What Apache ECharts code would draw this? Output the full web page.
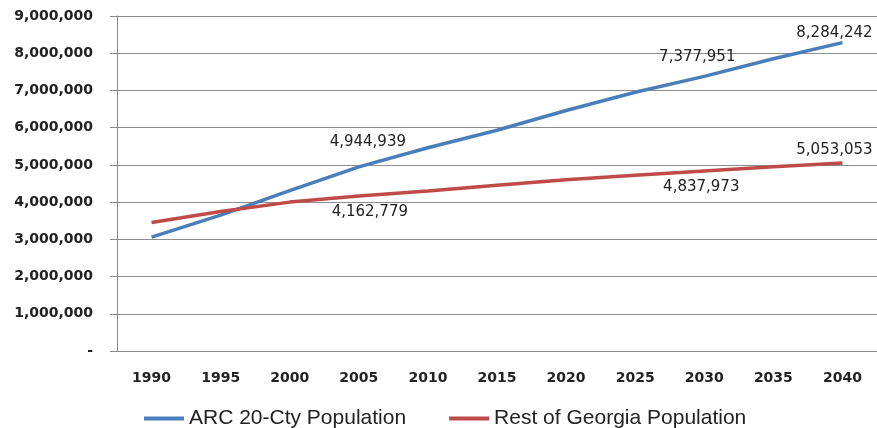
<!DOCTYPE html>
<html>
<head>
<meta charset="utf-8">
<script src="https://cdn.jsdelivr.net/npm/echarts@6/dist/echarts.min.js"></script>
<style>
  html, body { margin: 0; padding: 0; background: #fff; }
  #myLineChart { width: 877px; height: 428px; }
</style>
</head>
<body>
<div id="myLineChart"></div>
<script>
var years = ['1990', '1995', '2000', '2005', '2010', '2015', '2020', '2025', '2030', '2035', '2040'];
var arcPop = [3060000, 3650000, 4310000, 4944939, 5460000, 5930000, 6460000, 6950000, 7377951, 7850000, 8284242];
var restPop = [3450000, 3750000, 4000000, 4162779, 4300000, 4450000, 4600000, 4720000, 4837973, 4950000, 5053053];
var labeledIdx = [3, 8, 10];

// label placement, relative to the point
var arcOffsets = { 3: [9, -25], 8: [-7, -19], 10: [-8, -10] };
var restOffsets = { 3: [11, 16], 8: [-3, 16], 10: [-8, -13] };

function fmt(v) {
    return v === 0 ? '-' : v.toLocaleString('en-US');
}

function withLabels(values, offsets) {
    return values.map(function (v, i) {
        if (labeledIdx.indexOf(i) < 0) return v;
        return {
            value: v,
            label: {
                show: true,
                position: 'inside',
                offset: offsets[i],
                formatter: function (p) { return fmt(p.value); },
                fontFamily: 'DejaVu Sans',
                fontSize: 15,
                color: '#222'
            }
        };
    });
}

var myChart = echarts.init(document.getElementById('myLineChart'));

var option = {
    animation: false,
    grid: {
        left: 117,
        right: 0,
        top: 16,
        bottom: 77
    },
    legend: {
        data: ['ARC 20-Cty Population', 'Rest of Georgia Population'],
        left: 139,
        top: 403,
        itemWidth: 40,
        itemHeight: 4,
        itemGap: 43,
        icon: 'rect',
        textStyle: {
            fontFamily: 'Liberation Sans',
            fontSize: 21,
            color: '#222'
        }
    },
    xAxis: {
        type: 'category',
        boundaryGap: true,
        data: years,
        axisLine: { lineStyle: { color: '#8c8c8c' } },
        axisTick: { interval: 0, length: 7, lineStyle: { color: '#8c8c8c' } },
        axisLabel: {
            interval: 0,
            margin: 20,
            fontFamily: 'DejaVu Sans',
            fontSize: 14,
            fontWeight: 'bold',
            color: '#222'
        }
    },
    yAxis: {
        type: 'value',
        min: 0,
        max: 9000000,
        interval: 1000000,
        axisLine: { show: true, lineStyle: { color: '#8c8c8c' } },
        axisTick: { show: true, length: 7, lineStyle: { color: '#8c8c8c' } },
        splitLine: { lineStyle: { color: '#8c8c8c' } },
        axisLabel: {
            margin: 24,
            formatter: fmt,
            fontFamily: 'DejaVu Sans',
            fontSize: 14,
            fontWeight: 'bold',
            color: '#222'
        }
    },
    series: [
        {
            name: 'ARC 20-Cty Population',
            type: 'line',
            color: '#4A7EBB',
            symbol: 'circle',
            symbolSize: 0.01,
            showSymbol: true,
            lineStyle: { width: 3.5 },
            data: withLabels(arcPop, arcOffsets)
        },
        {
            name: 'Rest of Georgia Population',
            type: 'line',
            color: '#BE4B48',
            symbol: 'circle',
            symbolSize: 0.01,
            showSymbol: true,
            lineStyle: { width: 3.5 },
            data: withLabels(restPop, restOffsets)
        }
    ]
};

myChart.setOption(option);

window.onresize = function () {
    myChart.resize();
};
</script>
</body>
</html>
